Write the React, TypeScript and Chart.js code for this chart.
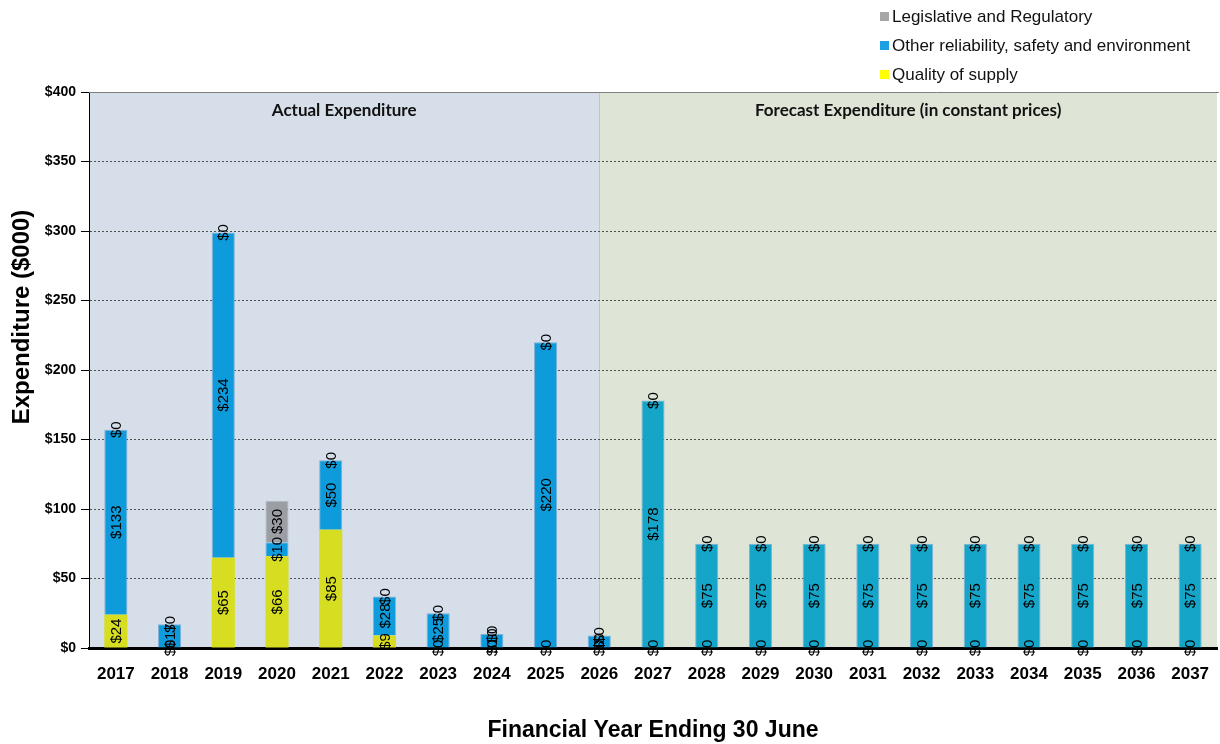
import { useEffect, useRef } from "react";
import { Chart, registerables } from "chart.js";

Chart.register(...registerables);

const years = ["2017", "2018", "2019", "2020", "2021", "2022", "2023", "2024", "2025", "2026", "2027", "2028", "2029", "2030", "2031", "2032", "2033", "2034", "2035", "2036", "2037"];
const qualityOfSupply = [24, 0, 65, 66, 85, 9, 0, 0, 0, 0, 0, 0, 0, 0, 0, 0, 0, 0, 0, 0, 0];
const otherReliability = [133, 17, 234, 10, 50, 28, 25, 10, 220, 9, 178, 75, 75, 75, 75, 75, 75, 75, 75, 75, 75];
const legislativeRegulatory = [0, 0, 0, 30, 0, 0, 0, 0, 0, 0, 0, 0, 0, 0, 0, 0, 0, 0, 0, 0, 0];
const actualYears = 10; // 2017–2026 are actual
const yMax = 400;
const yStep = 50;

const legendItems = [
  { label: "Legislative and Regulatory", color: "#A6A6A6" },
  { label: "Other reliability, safety and environment", color: "#1BA1E2" },
  { label: "Quality of supply", color: "#FFFF00" },
];

const ARIAL = '"Liberation Sans", Arial, sans-serif';

export default function App() {
  const ref = useRef<HTMLCanvasElement | null>(null);

  useEffect(() => {
    document.body.style.margin = "0";
    const canvas = ref.current;
    if (!canvas) return;

    const otherColors = otherReliability.map((_, i) => (i < actualYears ? "#0E9BDB" : "#14A5C9"));

    const backgroundPlugin = {
      id: "bgSplit",
      beforeDraw(chart: any) {
        const { ctx, chartArea } = chart;
        const xs = chart.scales.x;
        const splitX = xs.getPixelForValue(actualYears - 1);
        ctx.save();
        ctx.fillStyle = "#D6DEEA";
        ctx.fillRect(chartArea.left, chartArea.top, splitX - chartArea.left, chartArea.bottom - chartArea.top);
        ctx.fillStyle = "#DEE5D7";
        ctx.fillRect(splitX, chartArea.top, chartArea.right - splitX, chartArea.bottom - chartArea.top);
        ctx.strokeStyle = "#B9CACB";
        ctx.lineWidth = 1;
        ctx.beginPath();
        ctx.moveTo(Math.round(splitX) + 0.5, chartArea.top);
        ctx.lineTo(Math.round(splitX) + 0.5, chartArea.bottom);
        ctx.stroke();
        ctx.restore();
      },
      afterDraw(chart: any) {
        const { ctx, chartArea } = chart;
        const xs = chart.scales.x;
        const splitX = xs.getPixelForValue(actualYears - 1);
        ctx.save();
        // top border
        ctx.strokeStyle = "#7F7F7F";
        ctx.lineWidth = 1;
        ctx.beginPath();
        ctx.moveTo(chartArea.left, chartArea.top + 0.5);
        ctx.lineTo(chartArea.right + 2, chartArea.top + 0.5);
        ctx.stroke();
        // section titles
        ctx.fillStyle = "#111";
        ctx.font = 'bold 17px Lato, "Open Sans", sans-serif';
        ctx.textAlign = "center";
        ctx.textBaseline = "middle";
        ctx.fillText("Actual Expenditure", (chartArea.left + splitX) / 2, chartArea.top + 19);
        ctx.fillText("Forecast Expenditure (in constant prices)", (splitX + chartArea.right) / 2, chartArea.top + 19);
        // y-axis title
        ctx.save();
        ctx.translate(22, 317);
        ctx.rotate(-Math.PI / 2);
        ctx.fillStyle = "#000";
        ctx.font = "bold 24px " + ARIAL;
        ctx.fillText("Expenditure ($000)", 0, 0);
        ctx.restore();
        // legend
        ctx.font = "17px " + ARIAL;
        ctx.textAlign = "left";
        legendItems.forEach((it, i) => {
          const cy = 16 + i * 29;
          ctx.fillStyle = it.color;
          ctx.fillRect(880, cy - 4, 9, 9);
          ctx.fillStyle = "#111";
          ctx.fillText(it.label, 892, cy + 1);
        });
        ctx.restore();
      },
    };

    const labelPlugin = {
      id: "segLabels",
      afterDatasetsDraw(chart: any) {
        const { ctx } = chart;
        ctx.save();
        ctx.font = "15px " + ARIAL;
        ctx.fillStyle = "#000";
        ctx.textAlign = "center";
        ctx.textBaseline = "middle";
        chart.data.datasets.forEach((ds: any, di: number) => {
          const meta = chart.getDatasetMeta(di);
          meta.data.forEach((el: any, i: number) => {
            const v = ds.data[i];
            const p = el.getProps(["x", "y", "base"], true);
            const cy = (p.y + p.base) / 2;
            ctx.save();
            ctx.translate(p.x, cy);
            ctx.rotate(-Math.PI / 2);
            ctx.fillText("$" + v, 0, 1);
            ctx.restore();
          });
        });
        ctx.restore();
      },
    };

    const chart = new Chart(canvas, {
      type: "bar",
      data: {
        labels: years,
        datasets: [
          {
            label: "Quality of supply",
            data: qualityOfSupply,
            backgroundColor: "#D7DE22",
            borderColor: "#C9D64A",
            borderWidth: 0,
          },
          {
            label: "Other reliability, safety and environment",
            data: otherReliability,
            backgroundColor: otherColors,
            borderColor: "#7FB0D8",
            borderWidth: 1,
          },
          {
            label: "Legislative and Regulatory",
            data: legislativeRegulatory,
            backgroundColor: "#9B9EA5",
            borderColor: "#B4B8C0",
            borderWidth: 1,
          },
        ],
      },
      options: {
        responsive: false,
        animation: false,
        devicePixelRatio: 1,
        datasets: { bar: { barPercentage: 0.43, categoryPercentage: 1 } },
        layout: { padding: { top: 92, right: 3, left: 0, bottom: 0 } },
        plugins: {
          legend: { display: false },
          tooltip: { enabled: false },
          title: { display: false },
        },
        scales: {
          x: {
            stacked: true,
            grid: { display: false },
            border: { display: true, color: "#000", width: 3 },
            ticks: { color: "#000", font: { family: ARIAL, size: 17, weight: "bold" }, padding: 8, maxRotation: 0, autoSkip: false },
            title: {
              display: true,
              text: "Financial Year Ending 30 June",
              color: "#000",
              font: { family: ARIAL, size: 23, weight: "bold" },
              padding: { top: 0, bottom: 0 },
            },
            afterFit(scale: any) {
              scale.height = 96;
            },
          },
          y: {
            stacked: true,
            min: 0,
            max: yMax,
            grid: {
              color: "#505050",
              lineWidth: 1,
              tickColor: "#000",
              tickLength: 8,
              tickBorderDash: [],
            },
            border: { display: true, color: "#000", width: 1, dash: [2, 2] },
            ticks: {
              stepSize: yStep,
              color: "#000",
              font: { family: ARIAL, size: 14, weight: "bold" },
              padding: 5,
              callback: (v: any) => "$" + v,
            },
            title: { display: false },
            afterFit(scale: any) {
              scale.width = 89;
            },
          },
        },
      },
      plugins: [backgroundPlugin, labelPlugin],
    } as any);

    return () => chart.destroy();
  }, []);

  return (
    <div style={{ width: 1220, height: 744 }}>
      <canvas ref={ref} width={1220} height={744} />
    </div>
  );
}
